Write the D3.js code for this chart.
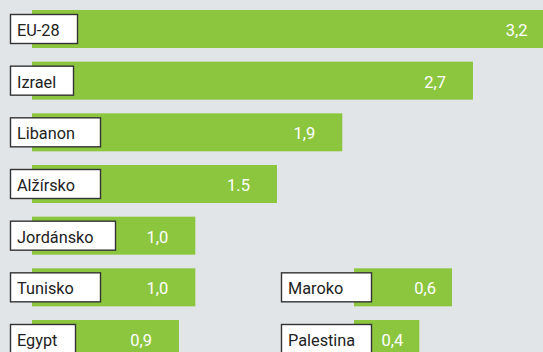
<!DOCTYPE html>
<html>
<head>
<meta charset="utf-8">
<script src="https://cdn.jsdelivr.net/npm/d3@7"></script>
<style>
  html, body { margin: 0; padding: 0; background: #e1e5e8; }
  svg { display: block; }
</style>
</head>
<body>
<svg id="chart" width="543" height="352"></svg>
<script>
// Main column
const categories = ["EU-28", "Izrael", "Libanon", "Alžírsko", "Jordánsko", "Tunisko", "Egypt"];
const values = [3.2, 2.7, 1.9, 1.5, 1.0, 1.0, 0.9];
const valueLabels = ["3,2", "2,7", "1,9", "1.5", "1,0", "1,0", "0,9"];

// Second column, sharing rows with the main one
const sideCategories = ["Maroko", "Palestina"];
const sideValues = [0.6, 0.4];
const sideValueLabels = ["0,6", "0,4"];
const sideRows = ["Tunisko", "Egypt"];

const W = 543, H = 352;
const green = "#8cc63f";
const boxWidth = { "EU-28": 67, "Izrael": 63, "Libanon": 90, "Alžírsko": 90, "Jordánsko": 105,
                   "Tunisko": 90, "Egypt": 65, "Maroko": 90, "Palestina": 90 };

const svg = d3.select("#chart");
svg.append("rect").attr("width", W).attr("height", H).attr("fill", "#e1e5e8");

const x = d3.scaleLinear().domain([0, 3.2]).range([0, 522.6]);
const y = d3.scaleBand().domain(categories).range([10, 358]).paddingInner(0.2645).paddingOuter(0);

const mainX0 = 32, sideX0 = 354;
const bh = y.bandwidth();

function drawRow(g, name, row, value, label, x0, labelX, valueInset) {
  const top = y(row);
  g.append("rect")
    .attr("x", x0).attr("y", top)
    .attr("width", x(value)).attr("height", bh)
    .attr("fill", green);
  g.append("text")
    .attr("x", x0 + x(value) - valueInset).attr("y", top + 26)
    .attr("text-anchor", "end")
    .attr("fill", "#fff")
    .style("font", "400 16.5px Roboto, sans-serif")
    .text(label);
  g.append("rect")
    .attr("x", labelX).attr("y", top + 4.5)
    .attr("width", boxWidth[name]).attr("height", 29)
    .attr("fill", "#fff").attr("stroke", "#333").attr("stroke-width", 1.4);
  g.append("text")
    .attr("x", labelX + 6.5).attr("y", top + 26)
    .attr("fill", "#222")
    .style("font", "400 16.3px Roboto, sans-serif")
    .text(name);
}

const g = svg.append("g");
categories.forEach((c, i) => drawRow(g, c, c, values[i], valueLabels[i], mainX0, 10.5, 27));
sideCategories.forEach((c, i) => drawRow(g, c, sideRows[i], sideValues[i], sideValueLabels[i], sideX0, 281.5, 16));
</script>
</body>
</html>
